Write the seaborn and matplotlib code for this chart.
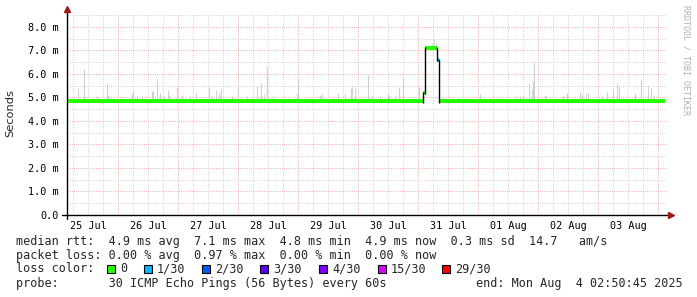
import datetime as dt
import numpy as np
import pandas as pd
import matplotlib
matplotlib.use("Agg")
import matplotlib.pyplot as plt
import matplotlib.dates as mdates
from matplotlib.ticker import MultipleLocator, FuncFormatter
from matplotlib.patches import Rectangle
import seaborn as sns

# ---------------- data ----------------
base = dt.datetime(2025, 7, 25)
# median rtt segments (hours since 25 Jul 00:00, value in ms, loss class index)
seg_start = [2.85, 146.0, 146.6, 151.6, 152.4]
seg_end = [146.0, 146.6, 151.6, 152.4, 242.85]
seg_val = [4.83, 5.19, 7.10, 6.60, 4.83]
seg_loss = [0, 0, 0, 1, 0]

# smoke spikes (hours since 25 Jul 00:00, top in ms)
spike_h = [8.0, 10.4, 15.6, 19.6, 20.0, 29.6, 30.0, 31.6, 33.6, 37.6, 38.0, 39.6,
           40.8, 42.4, 44.0, 44.4, 47.6, 49.6, 52.8, 55.2, 60.4, 61.6, 63.2, 64.4,
           65.2, 69.6, 72.0, 75.6, 79.6, 81.2, 82.4, 83.6, 86.0, 95.6, 96.0, 104.8,
           105.6, 112.0, 114.8, 117.2, 117.6, 118.8, 124.0, 125.6, 128.8, 132.0,
           132.4, 134.8, 136.4, 138.0, 144.4, 168.8, 183.2, 184.8, 186.0, 188.4,
           189.6, 190.0, 190.4, 194.8, 195.2, 202.0, 203.6, 208.8, 209.6, 211.2,
           212.0, 217.6, 219.6, 222.0, 223.6, 224.4, 230.8, 233.2, 236.0, 237.2,
           238.4]
spike_top = [5.4, 6.2, 5.06, 5.6, 5.1, 5.15, 5.3, 5.1, 5.05, 5.28, 5.28, 5.83,
             5.2, 5.05, 5.3, 5.1, 5.45, 5.1, 5.1, 5.2, 5.45, 5.1, 5.3, 5.2,
             5.35, 5.05, 5.5, 5.05, 5.5, 5.6, 5.15, 6.3, 5.05, 5.2, 5.8, 5.1,
             5.15, 5.2, 5.15, 5.4, 5.45, 5.4, 5.96, 5.05, 5.05, 5.15,
             5.1, 5.1, 5.45, 5.87, 5.45, 5.15, 5.05, 5.05, 5.05, 5.6,
             5.35, 5.7, 6.5, 5.05, 5.1, 5.05, 5.2, 5.25, 5.15, 5.2,
             5.2, 5.05, 5.25, 5.3, 5.6, 5.5, 5.2, 5.75, 5.5, 5.4,
             5.1]
peak_smoke_h = [147.2, 148.4, 149.6, 150.4, 151.0]
peak_smoke_top = [7.25, 7.2, 7.3, 7.5, 7.3]
smoke_lo, smoke_hi = 4.75, 4.93

loss_labels = ["0", "1/30", "2/30", "3/30", "4/30", "15/30", "29/30"]
loss_colors = ["#26ff00", "#00b8ff", "#0059ff", "#5e00ff", "#7e00ff", "#dd00ff", "#ff0000"]

y_ticks = [0, 1, 2, 3, 4, 5, 6, 7, 8]
ylabel = "Seconds"

line_rtt = "median rtt:  4.9 ms avg  7.1 ms max  4.8 ms min  4.9 ms now  0.3 ms sd  14.7   am/s"
line_loss = "packet loss: 0.00 % avg  0.97 % max  0.00 % min  0.00 % now"
line_color = "loss color:"
line_probe = "probe:       30 ICMP Echo Pings (56 Bytes) every 60s"
end_text = "end: Mon Aug  4 02:50:45 2025"

# ---------------- plotting ----------------
sns.set_style("white")
plt.rcParams["font.family"] = ["DejaVu Sans Mono", "DejaVu Sans"]

W, H = 697, 297
fig = plt.figure(figsize=(W / 100, H / 100), dpi=100)
fig.patch.set_facecolor("white")
ax = fig.add_axes([67 / W, 1 - 215 / H, 600 / W, 201 / H])
ax.set_facecolor("white")

def tt(h):
    return base + dt.timedelta(hours=h)

# smoke band around the median
for s, e, v in zip(seg_start, seg_end, seg_val):
    if v < 5:
        ax.fill_between([tt(s), tt(e)], [smoke_lo] * 2, [smoke_hi] * 2,
                        color="#dcdcdc", lw=0, zorder=2)
# smoke spikes
ax.vlines([tt(h) for h in spike_h], seg_val[0], spike_top, color="#d0d0d0", lw=0.8, zorder=2)
ax.vlines([tt(h) for h in peak_smoke_h], seg_val[2], peak_smoke_top, color="#d4d4d4", lw=0.8, zorder=2)

# median line via seaborn
rows = []
for i, (s, e, v, l) in enumerate(zip(seg_start, seg_end, seg_val, seg_loss)):
    rows.append({"time": tt(s), "rtt": v, "seg": i, "loss": loss_labels[l]})
    rows.append({"time": tt(e), "rtt": v, "seg": i, "loss": loss_labels[l]})
df = pd.DataFrame(rows)
pal = {lab: col for lab, col in zip(loss_labels, loss_colors)}
sns.lineplot(data=df, x="time", y="rtt", hue="loss", units="seg", estimator=None,
             palette=pal, lw=2.9, legend=False, ax=ax, zorder=4, solid_capstyle="butt")
# black connectors
for i in range(len(seg_val) - 1):
    ax.vlines(tt(seg_end[i]), min(seg_val[i], seg_val[i + 1]) - 0.05,
              max(seg_val[i], seg_val[i + 1]) + 0.05, color="black", lw=1.0, zorder=5)

# axes limits
ax.set_xlim(tt(3.6), tt(243.6))
ax.set_ylim(0, 8.55)
ax.set_xlabel("")
ax.set_ylabel("")

# grid
ax.set_axisbelow(True)
ax.xaxis.set_major_locator(mdates.DayLocator())
ax.xaxis.set_minor_locator(mdates.HourLocator(byhour=[6, 12, 18]))
ax.xaxis.set_major_formatter(FuncFormatter(lambda v, p: ""))
def minor_fmt(v, p):
    d = mdates.num2date(v)
    return d.strftime("%d %b") if d.hour == 12 else ""
ax.xaxis.set_minor_formatter(FuncFormatter(minor_fmt))
ax.yaxis.set_major_locator(MultipleLocator(1))
ax.yaxis.set_minor_locator(MultipleLocator(0.5))
ax.set_yticks(y_ticks)
ax.set_yticklabels(["0.0" if t == 0 else f"{t:.1f} m" for t in y_ticks])
dots = (0, (0.7, 1.4))
ax.grid(which="major", color="#ee9c9c", lw=0.75, linestyle=dots)
ax.grid(which="minor", color="#c8c8c8", lw=0.75, linestyle=dots)
ax.tick_params(which="both", length=0, labelsize=7.3, colors="black")
ax.tick_params(axis="y", pad=6)
ax.tick_params(axis="x", which="both", pad=4)

for sp in ax.spines.values():
    sp.set_visible(False)
# axis lines with arrows
ax.plot([0, 0], [-0.02, 1.02], color="black", lw=1.0, transform=ax.transAxes, clip_on=False, zorder=6)
ax.plot([-0.008, 1.005], [0, 0], color="black", lw=1.0, transform=ax.transAxes, clip_on=False, zorder=6)
ax.plot([0], [1.025], marker="^", ms=4, color="#a01818", transform=ax.transAxes, clip_on=False, zorder=7)
ax.plot([1.007], [0], marker=">", ms=4, color="#a01818", transform=ax.transAxes, clip_on=False, zorder=7)

# y label
fig.text(10 / W, 1 - 113 / H, ylabel, rotation=90, ha="center", va="center",
         fontsize=8.2, family="DejaVu Sans")
# watermark
fig.text(686 / W, 1 - 60 / H, "RRDTOOL / TOBI OETIKER", rotation=270, ha="center",
         va="center", fontsize=6, color="#b0b0b0")

# legend text
fs = 8.5
line_y = [241, 255, 269, 283]
fig.text(16 / W, 1 - line_y[0] / H, line_rtt, ha="left", va="center", fontsize=fs)
fig.text(16 / W, 1 - line_y[1] / H, line_loss, ha="left", va="center", fontsize=fs)
fig.text(16 / W, 1 - line_y[2] / H, line_color, ha="left", va="center", fontsize=fs)
box_x = [107, 144, 202, 260, 319, 378, 442]
for bx, lab, col in zip(box_x, loss_labels, loss_colors):
    fig.patches.append(Rectangle((bx / W, 1 - 273 / H), 8 / W, 8 / H, transform=fig.transFigure,
                                 facecolor=col, edgecolor="black", lw=0.8))
    fig.text((bx + 13) / W, 1 - line_y[2] / H, lab, ha="left", va="center", fontsize=fs)
fig.text(16 / W, 1 - line_y[3] / H, line_probe, ha="left", va="center", fontsize=fs)
fig.text(476 / W, 1 - line_y[3] / H, end_text, ha="left", va="center", fontsize=fs)

fig.savefig("out.png", dpi=100, facecolor="white")
